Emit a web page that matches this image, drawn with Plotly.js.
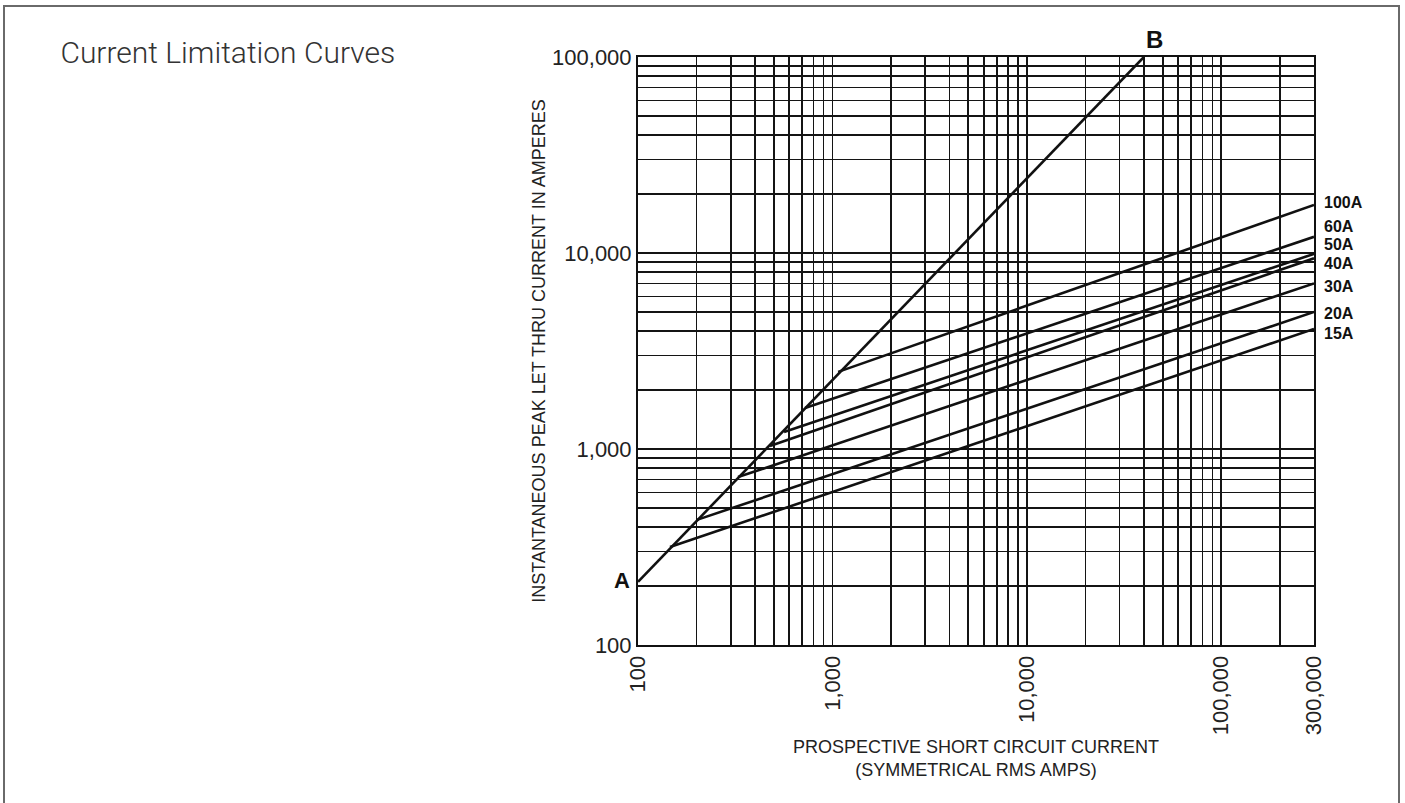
<!DOCTYPE html>
<html>
<head>
<meta charset="utf-8">
<script src="https://cdn.plot.ly/plotly-3.0.1.min.js"></script>
<style>
html, body { margin: 0; padding: 0; background: #fff; overflow: hidden; }
#frame { position: absolute; left: 3px; top: 5px; width: 1393px; height: 830px; border: 2px solid #6a6a6a; border-bottom: none; pointer-events: none; }
#chart { position: absolute; left: 0; top: 0; width: 1405px; height: 803px; }
</style>
</head>
<body>
<div id="chart"></div>
<div id="frame"></div>
<script>
// ---- data ----
const limitLineX = [100, 40000];          // line A-B
const limitLineY = [210, 100000];
const fuseRatings = ['15A', '20A', '30A', '40A', '50A', '60A', '100A'];
const fuseStartX = [146, 201, 327, 477, 564, 723, 1070];
const fuseStartY = [316, 435, 719, 1035, 1222, 1618, 2474];
const fuseEndX   = [300000, 300000, 300000, 300000, 300000, 300000, 300000];
const fuseEndY   = [4100, 5000, 7000, 9400, 9900, 12100, 17600];

const xTickVals = [100, 200, 300, 400, 500, 600, 700, 800, 900,
                   1000, 2000, 3000, 4000, 5000, 6000, 7000, 8000, 9000,
                   10000, 20000, 30000, 40000, 50000, 60000, 70000, 80000, 90000,
                   100000, 200000, 300000];
const xTickText = ['100', '', '', '', '', '', '', '', '',
                   '1,000', '', '', '', '', '', '', '', '',
                   '10,000', '', '', '', '', '', '', '', '',
                   '100,000', '', '300,000'];
const yTickVals = [100, 200, 300, 400, 500, 600, 700, 800, 900,
                   1000, 2000, 3000, 4000, 5000, 6000, 7000, 8000, 9000,
                   10000, 20000, 30000, 40000, 50000, 60000, 70000, 80000, 90000,
                   100000];
const yTickText = ['100', '', '', '', '', '', '', '', '',
                   '1,000', '', '', '', '', '', '', '', '',
                   '10,000', '', '', '', '', '', '', '', '',
                   '100,000'];

// ---- styles (kept apart from the data) ----
const labelShift = {'15A': -5, '20A': -1, '30A': -3, '40A': -5, '50A': 9, '60A': 10, '100A': 2};
const lineStyle = {color: '#111', width: 2.6};
const sans = 'Liberation Sans, Arial, Helvetica, sans-serif';

const traces = [{
  type: 'scatter', mode: 'lines', name: 'A-B',
  x: limitLineX, y: limitLineY, line: lineStyle, hoverinfo: 'skip', showlegend: false
}];
fuseRatings.forEach((r, i) => {
  traces.push({
    type: 'scatter', mode: 'lines', name: r,
    x: [fuseStartX[i], fuseEndX[i]], y: [fuseStartY[i], fuseEndY[i]],
    line: lineStyle, hoverinfo: 'skip', showlegend: false
  });
});

const annotations = fuseRatings.map((r, i) => ({
  text: r, xref: 'paper', x: 1, yref: 'y', y: Math.log10(fuseEndY[i]),
  xanchor: 'left', yanchor: 'middle', xshift: 8, yshift: labelShift[r],
  showarrow: false, font: {family: sans, size: 16, color: '#111', weight: 'bold'}
}));
annotations.push({
  text: 'A', xref: 'x', yref: 'y', x: Math.log10(limitLineX[0]), y: Math.log10(limitLineY[0]),
  xanchor: 'right', yanchor: 'middle', xshift: -6, yshift: 1, showarrow: false,
  font: {family: sans, size: 22, color: '#111', weight: 'bold'}
});
annotations.push({
  text: 'B', xref: 'x', yref: 'y', x: Math.log10(limitLineX[1]), y: Math.log10(limitLineY[1]),
  xanchor: 'center', yanchor: 'bottom', xshift: 11, yshift: 2, showarrow: false,
  font: {family: sans, size: 24, color: '#111', weight: 'bold'}
});

const layout = {
  width: 1405, height: 803,
  margin: {l: 638, r: 91, t: 57, b: 158},
  paper_bgcolor: '#fff', plot_bgcolor: '#fff',
  showlegend: false,
  title: {
    text: 'Current Limitation Curves', xref: 'container', yref: 'container',
    x: 0.043, xanchor: 'left', y: 0.934, yanchor: 'middle',
    font: {family: 'Roboto, Liberation Sans, sans-serif', size: 30, color: '#333', weight: 300}
  },
  xaxis: {
    type: 'log', range: [2, Math.log10(300000)],
    tickmode: 'array', tickvals: xTickVals, ticktext: xTickText, tickangle: -90,
    ticks: '', showgrid: true, gridcolor: '#141414', gridwidth: 1.6,
    showline: true, linecolor: '#111', linewidth: 2, mirror: true, zeroline: false,
    tickfont: {family: sans, size: 22, color: '#222'},
    title: {text: 'PROSPECTIVE SHORT CIRCUIT CURRENT<br>(SYMMETRICAL RMS AMPS)', standoff: 6,
            font: {family: sans, size: 18, color: '#222'}},
    fixedrange: true
  },
  yaxis: {
    type: 'log', range: [2, 5],
    tickmode: 'array', tickvals: yTickVals, ticktext: yTickText,
    ticks: '', showgrid: true, gridcolor: '#141414', gridwidth: 1.6,
    showline: true, linecolor: '#111', linewidth: 2, mirror: true, zeroline: false,
    tickfont: {family: sans, size: 22, color: '#222'},
    title: {text: 'INSTANTANEOUS PEAK LET THRU CURRENT IN AMPERES', standoff: 2,
            font: {family: sans, size: 18, color: '#222'}},
    fixedrange: true
  },
  annotations: annotations
};

Plotly.newPlot('chart', traces, layout, {displayModeBar: false, staticPlot: true});
</script>
</body>
</html>
